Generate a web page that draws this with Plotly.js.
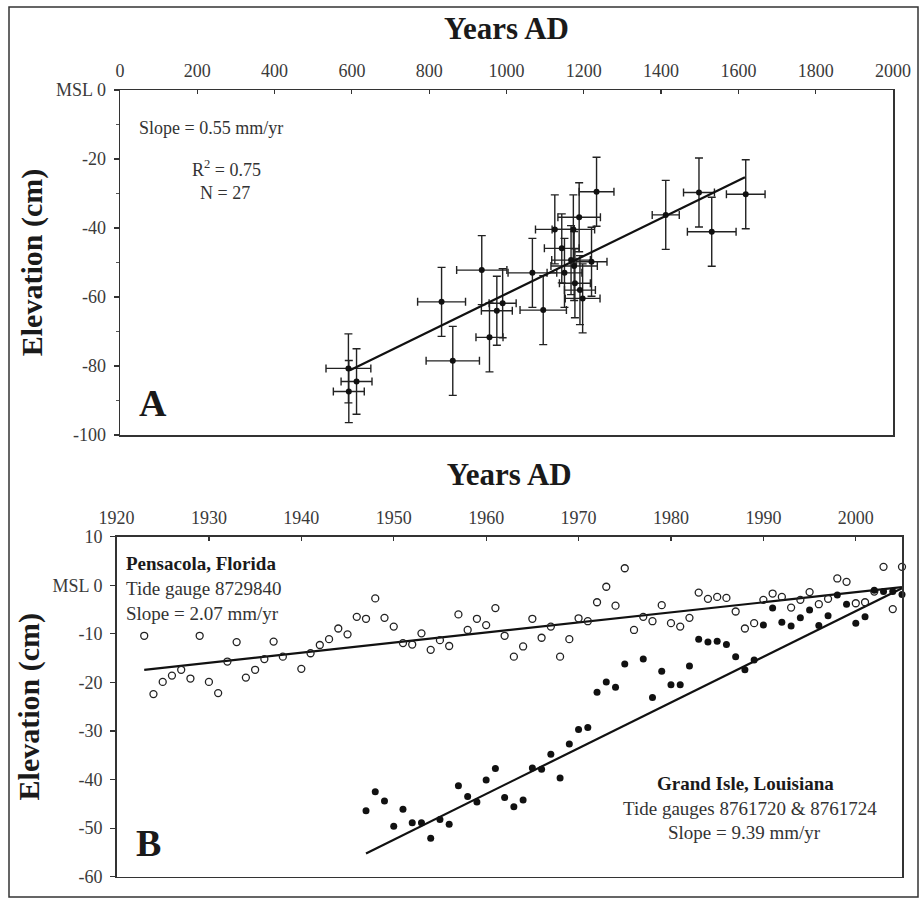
<!DOCTYPE html>
<html>
<head>
<meta charset="utf-8">
<script src="https://cdn.plot.ly/plotly-3.0.1.min.js"></script>
<style>html,body{margin:0;padding:0;background:#fff}#chart{width:924px;height:905px}</style>
</head>
<body>
<div id="chart"></div>
<script>
// ---------- Panel A: dated sea-level index points ----------
const aYear    = [591, 612, 592, 832, 861, 936, 990, 975, 956, 1067, 1095, 1125, 1143, 1188, 1173, 1233, 1167, 1175, 1177, 1197, 1220, 1412, 1498, 1531, 1619, 1150, 1190];
const aElev    = [-80.7, -84.5, -87.4, -61.4, -78.5, -52.2, -61.8, -64, -71.7, -53, -63.8, -40.4, -45.9, -36.9, -40.4, -29.5, -49.3, -51, -56, -60.4, -49.8, -36.2, -29.7, -41.1, -30.2, -53, -58];
const aYearErr = [58, 40, 40, 62, 69, 65, 35, 40, 35, 63, 60, 50, 45, 55, 55, 45, 50, 60, 40, 45, 40, 35, 40, 63, 50, 45, 40];
const aElevErr = [10, 9.5, 9, 10, 10, 10, 10, 10, 10, 10, 10, 10, 10, 10, 10, 10, 10, 10, 10, 10, 10, 10, 10, 10, 10, 10, 10];
const aFitYear = [595, 1617];
const aFitElev = [-81.2, -25.3];
const aXTicks  = [0, 200, 400, 600, 800, 1000, 1200, 1400, 1600, 1800, 2000];
const aYTicks  = [-100, -80, -60, -40, -20, 0];
const aYLabels = ['-100', '-80', '-60', '-40', '-20', 'MSL 0'];

// ---------- Panel B: tide gauges ----------
const penYear = [1923,1924,1925,1926,1927,1928,1929,1930,1931,1932,1933,1934,1935,1936,1937,1938,1940,1941,1942,1943,1944,1945,1946,1947,1948,1949,1950,1951,1952,1953,1954,1955,1956,1957,1958,1959,1960,1961,1962,1963,1964,1965,1966,1967,1968,1969,1970,1971,1972,1973,1974,1975,1976,1977,1978,1979,1980,1981,1982,1983,1984,1985,1986,1987,1988,1989,1990,1991,1992,1993,1994,1995,1996,1997,1998,1999,2000,2001,2002,2003,2004,2005];
const penElev = [-10.4,-22.4,-19.9,-18.6,-17.4,-19.2,-10.4,-19.9,-22.2,-15.7,-11.7,-19.0,-17.4,-15.2,-11.6,-14.7,-17.2,-14.0,-12.3,-11.1,-8.9,-10.1,-6.5,-6.9,-2.7,-6.7,-8.5,-11.9,-12.2,-9.9,-13.3,-11.3,-12.5,-6.0,-9.2,-6.9,-8.2,-4.7,-10.4,-14.7,-12.6,-6.9,-10.8,-8.5,-14.7,-11.1,-6.8,-7.4,-3.5,-0.3,-4.2,3.5,-9.2,-6.5,-7.4,-4.1,-7.8,-8.5,-6.7,-1.5,-2.8,-2.4,-2.6,-5.4,-8.9,-7.8,-3.0,-1.7,-2.4,-4.6,-3.0,-1.4,-3.9,-2.8,1.4,0.7,-3.7,-3.5,-1.3,3.8,-4.9,3.8];
const gilYear = [1947,1948,1949,1950,1951,1952,1953,1954,1955,1956,1957,1958,1959,1960,1961,1962,1963,1964,1965,1966,1967,1968,1969,1970,1971,1972,1973,1974,1975,1977,1978,1979,1980,1981,1982,1983,1984,1985,1986,1987,1988,1989,1990,1991,1992,1993,1994,1995,1996,1997,1998,1999,2000,2001,2002,2003,2004,2005];
const gilElev = [-46.4,-42.5,-44.4,-49.6,-46.1,-48.9,-48.9,-52.1,-48.2,-49.2,-41.3,-43.5,-44.6,-40.1,-37.7,-43.7,-45.6,-44.2,-37.6,-37.9,-34.8,-39.7,-32.7,-29.7,-29.3,-22.0,-19.9,-21.0,-16.2,-15.2,-23.1,-17.7,-20.5,-20.5,-16.6,-11.1,-11.7,-11.5,-12.2,-14.7,-17.4,-15.4,-8.2,-4.7,-7.6,-8.4,-6.7,-5.1,-8.3,-6.3,-2.0,-3.9,-7.8,-6.5,-1.0,-1.3,-1.3,-1.9];
const penFitYear = [1923, 2005];
const penFitElev = [-17.4, -0.4];
const gilFitYear = [1947, 2005];
const gilFitElev = [-55.2, -0.6];
const bXTicks  = [1920, 1930, 1940, 1950, 1960, 1970, 1980, 1990, 2000];
const bYTicks  = [-60, -50, -40, -30, -20, -10, 0, 10];
const bYLabels = ['-60', '-50', '-40', '-30', '-20', '-10', 'MSL 0', '10'];

const SERIF = '"Liberation Serif", "Times New Roman", serif';
const INK = '#1a1a1a';
const TICKC = '#3a3a3a';

const traces = [
  {
    type: 'scatter', mode: 'markers', x: aYear, y: aElev, xaxis: 'x', yaxis: 'y',
    marker: {color: '#111', size: 6},
    error_x: {type: 'data', array: aYearErr, color: '#222', thickness: 1.4, width: 4},
    error_y: {type: 'data', array: aElevErr, color: '#222', thickness: 1.4, width: 4},
    showlegend: false, hoverinfo: 'x+y'
  },
  {
    type: 'scatter', mode: 'lines', x: aFitYear, y: aFitElev, xaxis: 'x', yaxis: 'y',
    line: {color: '#111', width: 2.2}, showlegend: false
  },
  {
    type: 'scatter', mode: 'lines', x: penFitYear, y: penFitElev, xaxis: 'x2', yaxis: 'y2',
    line: {color: '#111', width: 2.2}, showlegend: false
  },
  {
    type: 'scatter', mode: 'lines', x: gilFitYear, y: gilFitElev, xaxis: 'x2', yaxis: 'y2',
    line: {color: '#111', width: 2.2}, showlegend: false
  },
  {
    type: 'scatter', mode: 'markers', x: penYear, y: penElev, xaxis: 'x2', yaxis: 'y2',
    marker: {symbol: 'circle-open', color: '#222', size: 7, line: {width: 1.3}},
    showlegend: false, cliponaxis: false
  },
  {
    type: 'scatter', mode: 'markers', x: gilYear, y: gilElev, xaxis: 'x2', yaxis: 'y2',
    marker: {symbol: 'circle', color: '#111', size: 7},
    showlegend: false, cliponaxis: false
  }
];

const axisBase = {
  showgrid: false, zeroline: false, showline: true, linecolor: '#333', linewidth: 1.5,
  mirror: true, tickcolor: '#333', tickwidth: 1.2,
  tickfont: {family: SERIF, size: 18, color: TICKC}, fixedrange: true
};

const layout = {
  width: 924, height: 905,
  margin: {l: 0, r: 0, t: 0, b: 0},
  paper_bgcolor: '#fff', plot_bgcolor: '#fff',
  showlegend: false,
  xaxis: Object.assign({}, axisBase, {
    domain: [120/924, 893/924], range: [0, 2000], side: 'top', anchor: 'y',
    tickmode: 'array', tickvals: aXTicks, ticks: 'inside', ticklen: 4, ticklabelstandoff: 4,
    title: {text: 'Years AD', font: {family: SERIF, size: 31, color: INK, weight: 'bold'}, standoff: 12}
  }),
  yaxis: Object.assign({}, axisBase, {
    domain: [(905-435)/905, (905-90)/905], range: [-100, 0], anchor: 'x',
    tickmode: 'array', tickvals: aYTicks, ticktext: aYLabels, ticks: 'outside', ticklen: 5, ticklabelstandoff: 4,
    minor: {dtick: 10, ticks: 'outside', ticklen: 3, tickcolor: '#555'},
    title: {text: 'Elevation (cm)', font: {family: SERIF, size: 30, color: INK, weight: 'bold'}, standoff: 4}
  }),
  xaxis2: Object.assign({}, axisBase, {
    domain: [116.5/924, 902/924], range: [1920, 2005], side: 'top', anchor: 'y2',
    tickmode: 'array', tickvals: bXTicks, ticks: 'inside', ticklen: 4, ticklabelstandoff: 4,
    title: {text: 'Years AD', font: {family: SERIF, size: 31, color: INK, weight: 'bold'}, standoff: 13}
  }),
  yaxis2: Object.assign({}, axisBase, {
    domain: [(905-876.7)/905, (905-536.7)/905], range: [-60, 10], anchor: 'x2',
    tickmode: 'array', tickvals: bYTicks, ticktext: bYLabels, ticks: 'outside', ticklen: 5, ticklabelstandoff: 4,
    title: {text: 'Elevation (cm)', font: {family: SERIF, size: 30, color: INK, weight: 'bold'}, standoff: 4}
  }),
  shapes: [
    {type: 'rect', xref: 'paper', yref: 'paper', x0: 9/924, x1: 918/924, y0: (905-897)/905, y1: (905-7)/905,
     line: {color: '#333', width: 1.5}, fillcolor: 'rgba(0,0,0,0)'}
  ],
  annotations: [
    {xref: 'paper', yref: 'paper', x: 137/924, y: (905-128)/905, xanchor: 'left', yanchor: 'middle', showarrow: false,
     text: 'Slope = 0.55 mm/yr', font: {family: SERIF, size: 18, color: '#333'}},
    {xref: 'paper', yref: 'paper', x: 226/924, y: (905-168)/905, xanchor: 'center', yanchor: 'middle', showarrow: false,
     text: 'R<sup>2</sup> = 0.75', font: {family: SERIF, size: 18, color: '#333'}},
    {xref: 'paper', yref: 'paper', x: 225/924, y: (905-193)/905, xanchor: 'center', yanchor: 'middle', showarrow: false,
     text: 'N = 27', font: {family: SERIF, size: 18, color: '#333'}},
    {xref: 'paper', yref: 'paper', x: 153/924, y: (905-403)/905, xanchor: 'center', yanchor: 'middle', showarrow: false,
     text: '<b>A</b>', font: {family: SERIF, size: 38, color: INK}},
    {xref: 'paper', yref: 'paper', x: 124/924, y: (905-563)/905, xanchor: 'left', yanchor: 'middle', showarrow: false,
     text: '<b>Pensacola, Florida</b>', font: {family: SERIF, size: 19, color: INK}},
    {xref: 'paper', yref: 'paper', x: 124/924, y: (905-588)/905, xanchor: 'left', yanchor: 'middle', showarrow: false,
     text: 'Tide gauge 8729840', font: {family: SERIF, size: 19, color: '#333'}},
    {xref: 'paper', yref: 'paper', x: 124/924, y: (905-613)/905, xanchor: 'left', yanchor: 'middle', showarrow: false,
     text: 'Slope = 2.07 mm/yr', font: {family: SERIF, size: 19, color: '#333'}},
    {xref: 'paper', yref: 'paper', x: 745/924, y: (905-783)/905, xanchor: 'center', yanchor: 'middle', showarrow: false,
     text: '<b>Grand Isle, Louisiana</b>', font: {family: SERIF, size: 19, color: INK}},
    {xref: 'paper', yref: 'paper', x: 750/924, y: (905-808)/905, xanchor: 'center', yanchor: 'middle', showarrow: false,
     text: 'Tide gauges 8761720 &amp; 8761724', font: {family: SERIF, size: 19, color: '#333'}},
    {xref: 'paper', yref: 'paper', x: 744/924, y: (905-832)/905, xanchor: 'center', yanchor: 'middle', showarrow: false,
     text: 'Slope = 9.39 mm/yr', font: {family: SERIF, size: 19, color: '#333'}},
    {xref: 'paper', yref: 'paper', x: 148/924, y: (905-843)/905, xanchor: 'center', yanchor: 'middle', showarrow: false,
     text: '<b>B</b>', font: {family: SERIF, size: 38, color: INK}}
  ]
};

Plotly.newPlot('chart', traces, layout, {displayModeBar: false, staticPlot: true});
</script>
</body>
</html>
